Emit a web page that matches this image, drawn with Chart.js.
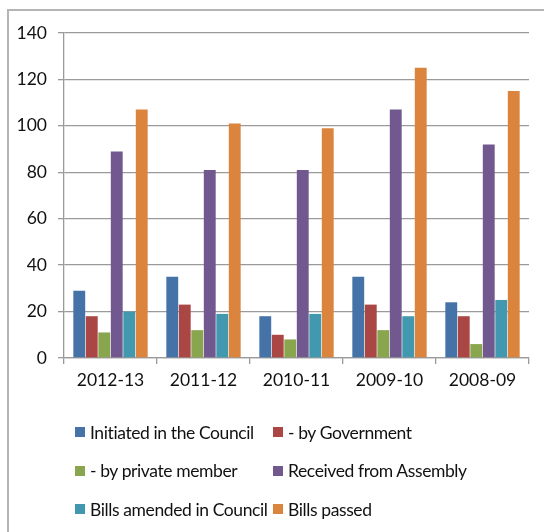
<!DOCTYPE html>
<html>
<head>
<meta charset="utf-8">
<script src="https://cdn.jsdelivr.net/npm/chart.js@4/dist/chart.umd.min.js"></script>
<style>
  html, body { margin: 0; padding: 0; background: #fff; }
  #wrap { position: relative; width: 544px; height: 532px; overflow: hidden; }
  #frame { position: absolute; left: 7px; top: 9px; width: 600px; height: 600px;
           border-left: 2px solid #b4b4b4; border-top: 2px solid #b4b4b4; }
  canvas { position: absolute; left: 0; top: 0; }
  #legend { position: absolute; left: 75px; top: 413px; width: 460px;
            display: grid; grid-template-columns: 198px 240px; grid-auto-rows: 38.5px;
            font-family: Lato, sans-serif; font-size: 17.5px; letter-spacing: -0.4px; color: #111; }
  #legend div { display: flex; align-items: center; white-space: nowrap; }
  #legend span.box { display: inline-block; flex: none; width: 10px; height: 10px; margin-right: 5px; }
</style>
</head>
<body>
<div id="wrap">
  <div id="frame"></div>
  <canvas id="billsChart" width="544" height="532"></canvas>
  <div id="legend"></div>
</div>
<script>
// session years, newest first as in the report
const years = ['2012-13', '2011-12', '2010-11', '2009-10', '2008-09'];

const initiatedInCouncil = [29, 35, 18, 35, 24];
const byGovernment       = [18, 23, 10, 23, 18];
const byPrivateMember    = [11, 12, 8, 12, 6];
const receivedFromAssembly = [89, 81, 81, 107, 92];
const amendedInCouncil   = [20, 19, 19, 18, 25];
const billsPassed        = [107, 101, 99, 125, 115];

const seriesNames = [
    'Initiated in the Council',
    '- by Government',
    '- by private member',
    'Received from Assembly',
    'Bills amended in Council',
    'Bills passed'
];
const seriesColors = ['#4572A7', '#AA4643', '#89A54E', '#71588F', '#4198AF', '#DB843D'];
const yTicks = [0, 20, 40, 60, 80, 100, 120, 140];

const seriesValues = [initiatedInCouncil, byGovernment, byPrivateMember,
                      receivedFromAssembly, amendedInCouncil, billsPassed];

const gridColor = '#9a9a9a';
const tickFont = { family: 'Lato', size: 17.5 };

const chart = new Chart(document.getElementById('billsChart').getContext('2d'), {
    type: 'bar',
    data: {
        labels: years,
        datasets: seriesValues.map((vals, i) => ({
            label: seriesNames[i],
            data: vals,
            backgroundColor: seriesColors[i],
            borderWidth: 0,
            categoryPercentage: 0.806,
            barPercentage: 0.95
        }))
    },
    options: {
        responsive: false,
        animation: false,
        layout: { padding: { left: 0, right: 15, top: 33, bottom: 134 } },
        plugins: {
            legend: { display: false },
            tooltip: { enabled: false }
        },
        scales: {
            x: {
                offset: true,
                grid: { drawOnChartArea: false, drawTicks: true, tickLength: 6, offset: true, color: gridColor, lineWidth: 1.3 },
                border: { color: gridColor, width: 1.3 },
                ticks: { color: '#111', font: tickFont, padding: 6, maxRotation: 0 },
                afterFit(scale) { scale.height = 40; }
            },
            y: {
                min: 0,
                max: 140,
                afterBuildTicks(scale) { scale.ticks = yTicks.map(v => ({ value: v })); },
                grid: { color: gridColor, lineWidth: 1.3, tickLength: 6 },
                border: { color: gridColor, width: 1.3 },
                ticks: { color: '#111', font: tickFont, padding: 11 },
                afterFit(scale) { scale.width = 64; }
            }
        }
    }
});

// legend in two fixed columns, built from the chart's datasets
const legendEl = document.getElementById('legend');
chart.data.datasets.forEach(ds => {
    const item = document.createElement('div');
    const box = document.createElement('span');
    box.className = 'box';
    box.style.background = ds.backgroundColor;
    item.appendChild(box);
    item.appendChild(document.createTextNode(ds.label));
    legendEl.appendChild(item);
});
</script>
</body>
</html>
